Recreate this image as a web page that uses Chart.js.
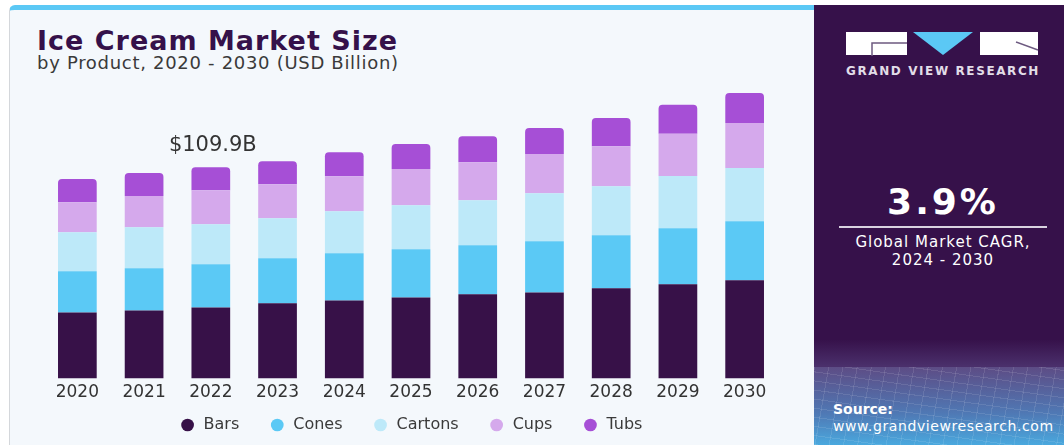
<!DOCTYPE html>
<html>
<head>
<meta charset="utf-8">
<script src="https://cdn.jsdelivr.net/npm/chart.js@4.4.1/dist/chart.umd.min.js"></script>
<style>
    body { margin: 0; background: #ffffff; width: 1064px; height: 445px; overflow: hidden; position: relative; font-family: "DejaVu Sans", sans-serif; }
    .left-panel { position: absolute; left: 9px; top: 5px; width: 805px; height: 440px; background: #f4f8fc; border-left: 1px solid #d4d7db; border-top: 5px solid #5bc8f5; border-top-left-radius: 6px; box-sizing: border-box; }
    .right-panel { position: absolute; left: 814px; top: 5px; width: 250px; height: 440px; background: linear-gradient(#36114a 0%, #36114a 76%, #4a2f6b 82%); }
    .source-box { position: absolute; left: 814px; top: 367px; width: 250px; height: 78px;
        background:
            repeating-linear-gradient(100deg, rgba(255,255,255,0.10) 0 1px, transparent 1px 14px),
            repeating-linear-gradient(8deg, rgba(255,255,255,0.10) 0 1px, transparent 1px 9px),
            linear-gradient(#5d4c85, #4f79b5 60%, #4aa8de); }
    .txt { position: absolute; white-space: nowrap; }
    .title { left: 37px; top: 27px; font-size: 27px; line-height: 27px; font-weight: bold; color: #35114a; letter-spacing: 1px; }
    .subtitle { left: 37px; top: 54px; font-size: 18px; line-height: 18px; color: #3a3a3a; letter-spacing: 0.7px; }
    .brand { left: 846px; top: 65px; width: 193px; font-size: 12px; line-height: 12px; font-weight: bold; color: #e2dde8; letter-spacing: 1.6px; }
    .cagr { left: 838px; width: 210px; text-align: center; color: #ffffff; }
    .cagr-big { top: 184px; font-size: 36px; line-height: 36px; font-weight: bold; letter-spacing: 3px; }
    .cagr-line { position: absolute; left: 839px; top: 226px; width: 208px; height: 2px; background: #d9d2e0; }
    .cagr-small { font-size: 15px; line-height: 15px; letter-spacing: 1px; }
    .source { left: 833px; color: #ffffff; font-size: 14px; line-height: 14px; letter-spacing: 0.6px; }
    #chart-wrap { position: absolute; left: 10px; top: 10px; width: 803px; height: 435px; }
</style>
</head>
<body>
<div class="left-panel"></div>
<div class="right-panel"></div>
<div class="source-box"></div>

<div class="txt title">Ice Cream Market Size</div>
<div class="txt subtitle">by Product, 2020 - 2030 (USD Billion)</div>

<svg style="position:absolute;left:846px;top:32px" width="193" height="24" viewBox="0 0 193 24">
    <rect x="0" y="0" width="61" height="23" fill="#ffffff"/>
    <path d="M26 28 L26 11 L61 11" stroke="#6d5a80" stroke-width="1.5" fill="none"/>
    <polygon points="67,0 127,0 97,23" fill="#5bc8f5"/>
    <rect x="134" y="0" width="58" height="23" fill="#ffffff"/>
    <path d="M170 10 L192 18" stroke="#6d5a80" stroke-width="1.5" fill="none"/>
</svg>
<div class="txt brand">GRAND VIEW RESEARCH</div>

<div class="txt cagr cagr-big">3.9%</div>
<div class="cagr-line"></div>
<div class="txt cagr cagr-small" style="top: 235px;">Global Market CAGR,</div>
<div class="txt cagr cagr-small" style="top: 253px;">2024 - 2030</div>

<div class="txt source" style="top: 402px; font-weight: bold; letter-spacing: 0;">Source:</div>
<div class="txt source" style="top: 419px;">www.grandviewresearch.com</div>

<div id="chart-wrap"><canvas id="market-chart" width="803" height="435"></canvas></div>

<script>
// DATA (USD Billion)

const years = ["2020", "2021", "2022", "2023", "2024", "2025", "2026", "2027", "2028", "2029", "2030"];

const barsValues = [34.4, 35.4, 37.0, 39.1, 40.6, 42.2, 43.8, 44.8, 46.9, 49.0, 51.1];
const conesValues = [21.4, 21.9, 22.4, 23.4, 24.5, 25.0, 25.5, 26.6, 27.6, 29.2, 30.7];
const cartonsValues = [20.3, 21.4, 20.8, 20.8, 21.9, 22.9, 23.4, 25.0, 25.5, 27.1, 27.6];
const cupsValues = [15.6, 16.2, 17.7, 17.7, 18.2, 18.8, 19.8, 20.3, 20.8, 21.9, 23.4];
const tubsValues = [12.0, 12.0, 12.0, 12.0, 12.5, 13.0, 13.5, 13.5, 14.6, 15.1, 15.6];

const highlightIndex = 2; // 2022
const highlightLabel = "$109.9B";

// CHART

const colors = {
    bars: "#371148",
    cones: "#5bc9f5",
    cartons: "#bde9f9",
    cups: "#d5a9ec",
    tubs: "#a64fd6",
};

// draw the "$109.9B" label above the 2022 stack
const totalLabelPlugin = {
    id: "totalLabel",
    afterDatasetsDraw(chart) {
        const ctx = chart.ctx;
        const xScale = chart.scales.x;
        const yScale = chart.scales.y;
        let total = 0;
        chart.data.datasets.forEach(ds => total += ds.data[highlightIndex]);

        ctx.save();
        ctx.font = "21px 'DejaVu Sans'";
        ctx.fillStyle = "#333333";
        ctx.textAlign = "center";
        ctx.textBaseline = "middle";
        ctx.fillText(highlightLabel, xScale.getPixelForValue(highlightIndex) + 2, yScale.getPixelForValue(total) - 22);
        ctx.restore();
    }
};

// fixed legend height, then pull the legend box up so its padding overlaps the tick labels
const legendPlacePlugin = {
    id: "legendPlace",
    beforeInit(chart) {
        const originalFit = chart.legend.fit;
        chart.legend.fit = function fit() {
            originalFit.bind(chart.legend)();
            this.height = 38;
        };
    },
    afterLayout(chart) {
        chart.legend.top -= 20;
    }
};

function makeDataset(label, data, color, isTop) {
    return {
        label: label,
        data: data,
        backgroundColor: color,
        borderWidth: 0,
        borderRadius: isTop ? { topLeft: 4, topRight: 4, bottomLeft: 0, bottomRight: 0 } : 0,
        borderSkipped: false,
        categoryPercentage: 1,
        barPercentage: 0.58,
    };
}

new Chart(document.getElementById("market-chart"), {
    type: "bar",
    plugins: [totalLabelPlugin, legendPlacePlugin],
    data: {
        labels: years,
        datasets: [
            makeDataset("Bars", barsValues, colors.bars, false),
            makeDataset("Cones", conesValues, colors.cones, false),
            makeDataset("Cartons", cartonsValues, colors.cartons, false),
            makeDataset("Cups", cupsValues, colors.cups, false),
            makeDataset("Tubs", tubsValues, colors.tubs, true),
        ]
    },
    options: {
        responsive: false,
        animation: false,
        layout: {
            padding: {
                top: 70,
                left: 34,
                right: 35,
                bottom: 0,
            },
        },
        scales: {
            x: {
                stacked: true,
                grid: {
                    display: false,
                    drawTicks: false,
                },
                border: { display: false },
                ticks: {
                    color: "#333333",
                    padding: 4,
                    font: { family: "DejaVu Sans", size: 17 },
                    maxRotation: 0,
                },
            },
            y: {
                stacked: true,
                display: false,
                min: 0,
                max: 155.2,
            }
        },
        plugins: {
            tooltip: { enabled: false },
            legend: {
                position: "bottom",
                labels: {
                    usePointStyle: true,
                    pointStyle: "circle",
                    boxWidth: 16,
                    boxHeight: 9,
                    padding: 30,
                    color: "#3a3a3a",
                    font: { family: "DejaVu Sans", size: 16 },
                }
            }
        }
    }
});
</script>
</body>
</html>
